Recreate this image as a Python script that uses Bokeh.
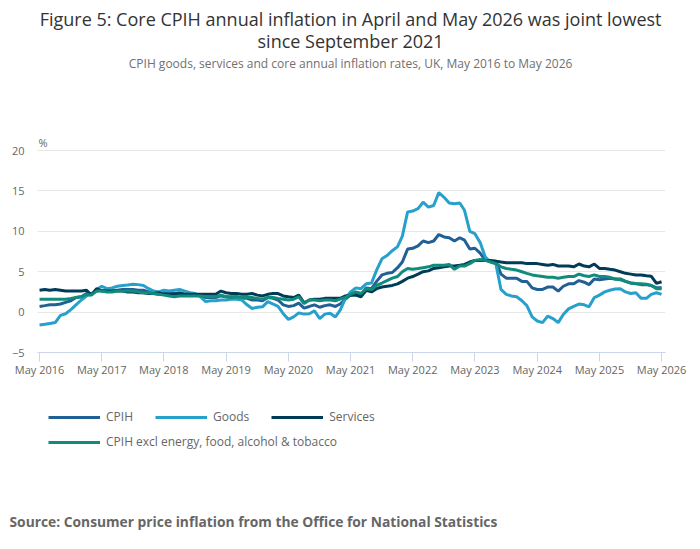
import pandas as pd
from bokeh.plotting import figure
from bokeh.layouts import column
from bokeh.models import (Range1d, FixedTicker, DatetimeTickFormatter, Legend, LegendItem,
                          Label, Title, ColumnDataSource)
from bokeh.embed import file_html
from bokeh.resources import INLINE

# ---------------- data ----------------
start_month = "2016-05-01"
end_month = "2026-05-01"
tick_years = [2016, 2017, 2018, 2019, 2020, 2021, 2022, 2023, 2024, 2025, 2026]
y_ticks = [-5, 0, 5, 10, 15, 20]

cpih = [0.7, 0.8, 0.9, 0.9, 1.0, 1.2, 1.4, 1.8,
        1.9, 2.3, 2.3, 2.6, 2.7, 2.6, 2.6, 2.7, 2.8, 2.8, 2.8, 2.7,
        2.7, 2.5, 2.3, 2.2, 2.3, 2.3, 2.3, 2.4, 2.2, 2.2, 2.2, 2.0,
        1.8, 1.8, 1.8, 2.0, 1.9, 1.9, 1.9, 1.7, 1.7, 1.5, 1.5, 1.4,
        1.8, 1.7, 1.5, 0.9, 0.7, 0.8, 1.1, 0.5, 0.7, 0.9, 0.6, 0.8,
        0.9, 0.7, 1.0, 1.6, 2.1, 2.4, 2.1, 3.0, 2.9, 3.8, 4.6, 4.8,
        4.9, 5.5, 6.2, 7.8, 7.9, 8.2, 8.8, 8.6, 8.8, 9.6, 9.3, 9.2,
        8.8, 9.2, 8.9, 7.8, 7.9, 7.3, 6.4, 6.3, 6.3, 4.7, 4.2, 4.2,
        4.2, 3.8, 3.8, 3.0, 2.8, 2.8, 3.1, 3.1, 2.6, 3.2, 3.5, 3.5,
        3.9, 3.7, 3.4, 4.1, 4.0, 4.1, 4.2, 4.1, 4.1, 3.8, 3.6, 3.5,
        3.4, 3.4, 3.3, 3.0, 3.0]

goods = [-1.6, -1.5, -1.4, -1.3, -0.4, -0.2, 0.3, 0.9,
         1.5, 2.0, 2.2, 2.8, 3.2, 2.9, 3.0, 3.2, 3.3, 3.35, 3.45, 3.4,
         3.3, 2.9, 2.6, 2.5, 2.7, 2.6, 2.7, 2.8, 2.6, 2.4, 2.3, 1.9,
         1.3, 1.4, 1.4, 1.5, 1.5, 1.6, 1.6, 1.5, 0.9, 0.45, 0.6, 0.65,
         1.3, 1.0, 0.7, -0.2, -0.9, -0.6, -0.1, -0.25, -0.2, 0.15, -0.8, -0.25,
         -0.15, -0.6, 0.25, 1.7, 2.5, 3.0, 2.9, 3.5, 3.6, 5.2, 6.6, 7.0,
         7.6, 8.1, 9.4, 12.4, 12.5, 12.8, 13.6, 13.0, 13.2, 14.8, 14.2, 13.5,
         13.4, 13.5, 12.6, 10.0, 9.7, 8.6, 6.8, 6.2, 6.0, 2.8, 2.2, 2.0,
         1.9, 1.4, 0.8, -0.6, -1.1, -1.3, -0.5, -0.8, -1.3, -0.3, 0.4, 0.7,
         1.0, 0.9, 0.65, 1.8, 2.1, 2.5, 2.7, 2.85, 2.9, 2.5, 2.3, 2.4,
         1.7, 1.7, 2.2, 2.4, 2.2]

services = [2.7, 2.8, 2.7, 2.8, 2.7, 2.6, 2.6, 2.6,
            2.6, 2.7, 2.1, 2.9, 2.6, 2.6, 2.6, 2.6, 2.6, 2.5, 2.5, 2.4,
            2.4, 2.3, 2.3, 2.4, 2.2, 2.2, 2.2, 2.3, 2.2, 2.2, 2.2, 2.2,
            2.2, 2.2, 2.2, 2.6, 2.4, 2.3, 2.3, 2.2, 2.2, 2.3, 2.1, 2.0,
            2.2, 2.3, 2.3, 2.0, 1.9, 1.8, 2.1, 1.15, 1.5, 1.6, 1.6, 1.7,
            1.7, 1.7, 1.7, 2.0, 2.1, 2.1, 1.9, 2.7, 2.5, 2.9, 3.1, 3.2,
            3.3, 3.5, 3.8, 4.2, 4.4, 4.7, 5.0, 5.1, 5.4, 5.5, 5.6, 5.7,
            5.7, 5.8, 5.9, 6.2, 6.4, 6.4, 6.4, 6.4, 6.3, 6.2, 6.1, 6.1,
            6.1, 6.1, 6.0, 6.0, 6.0, 5.9, 5.8, 5.9, 5.7, 5.7, 5.7, 5.6,
            5.95, 5.7, 5.6, 5.95, 5.4, 5.4, 5.3, 5.2, 5.0, 4.8, 4.7, 4.6,
            4.6, 4.5, 4.45, 3.55, 3.75]

core = [1.6, 1.6, 1.6, 1.6, 1.6, 1.6, 1.7, 1.8,
        1.9, 2.2, 2.1, 2.6, 2.6, 2.5, 2.5, 2.6, 2.6, 2.6, 2.6, 2.5,
        2.4, 2.4, 2.3, 2.2, 2.1, 2.0, 1.9, 2.0, 2.0, 2.0, 2.0, 2.0,
        1.9, 1.9, 1.9, 2.1, 1.9, 1.8, 1.9, 1.8, 1.8, 1.8, 1.7, 1.6,
        1.8, 1.8, 1.7, 1.6, 1.5, 1.6, 1.9, 1.05, 1.5, 1.5, 1.4, 1.5,
        1.5, 1.4, 1.6, 1.8, 2.2, 2.5, 2.3, 2.9, 2.8, 3.3, 3.6, 3.9,
        4.2, 4.4, 5.0, 5.4, 5.3, 5.4, 5.5, 5.6, 5.8, 5.8, 5.8, 5.9,
        5.3, 5.7, 5.7, 6.0, 6.4, 6.5, 6.4, 6.2, 6.0, 5.6, 5.4, 5.3,
        5.2, 5.0, 4.8, 4.6, 4.5, 4.4, 4.3, 4.3, 4.2, 4.3, 4.4, 4.4,
        4.7, 4.5, 4.4, 4.6, 4.4, 4.4, 4.3, 4.1, 4.0, 3.8, 3.6, 3.55,
        3.5, 3.45, 3.3, 2.9, 2.9]

series_names = ["CPIH", "Goods", "Services", "CPIH excl energy, food, alcohol & tobacco"]
series_colors = ["#206095", "#27a0cc", "#003c57", "#118c7b"]

title_line1 = "Figure 5: Core CPIH annual inflation in April and May 2026 was joint lowest"
title_line2 = "since September 2021"
subtitle = "CPIH goods, services and core annual inflation rates, UK, May 2016 to May 2026"
source_text = "Source: Consumer price inflation from the Office for National Statistics"
unit_text = "%"

# ---------------- layout constants ----------------
W = 692
H_TOP = 382                                   # chart part (titles + plot + x axis)
H_BOT = 159                                   # legend + source part
FRAME_L, FRAME_R, FRAME_B = 37, 665, 352      # frame top is the canvas top
PX_PER_UNIT = (352 - 150) / 25.0              # 20 drawn at y=150, -5 at y=352
Y_TOP = 20 + 150 / PX_PER_UNIT


def yval(py):
    """vertical page position -> value on the y scale (frame starts at page top)"""
    return 20 + (150 - py) / PX_PER_UNIT


FONT = "Open Sans"
months = pd.date_range(start_month, end_month, freq="MS")
src = ColumnDataSource(dict(date=months, cpih=cpih, goods=goods, services=services, core=core))
cols = ["cpih", "goods", "services", "core"]

x_start = pd.Timestamp(start_month) - pd.Timedelta(days=12)
x_end = pd.Timestamp(end_month) + pd.Timedelta(days=23)

# ================= main chart =================
p = figure(width=W, height=H_TOP, output_backend="svg", toolbar_location=None,
           x_axis_type="datetime", title=None,
           x_range=Range1d(x_start, x_end), y_range=Range1d(-5, Y_TOP),
           min_border_left=FRAME_L, min_border_right=W - FRAME_R, min_border_top=0,
           min_border_bottom=H_TOP - FRAME_B)
p.outline_line_color = None
p.background_fill_color = "white"
p.border_fill_color = "white"

tick_ms = [pd.Timestamp(f"{y}-05-01").value // 10**6 for y in tick_years]
p.xaxis.ticker = FixedTicker(ticks=tick_ms)
fmt = "%b %Y"
p.xaxis.formatter = DatetimeTickFormatter(years=fmt, months=fmt, days=fmt, hours=fmt,
                                          minutes=fmt, seconds=fmt, milliseconds=fmt,
                                          microseconds=fmt, minsec=fmt, hourmin=fmt)
p.xaxis.axis_line_color = "#ccd6eb"
p.xaxis.major_tick_line_color = "#ccd6eb"
p.xaxis.major_tick_out = 9
p.xaxis.major_tick_in = 0
p.xaxis.minor_tick_line_color = None
p.xaxis.major_label_standoff = 0
p.xaxis.major_label_text_font = FONT
p.xaxis.major_label_text_font_size = "11px"
p.xaxis.major_label_text_color = "#666666"

p.yaxis.ticker = FixedTicker(ticks=y_ticks)
p.yaxis.axis_line_color = None
p.yaxis.major_tick_line_color = None
p.yaxis.minor_tick_line_color = None
p.yaxis.major_tick_out = 0
p.yaxis.major_tick_in = 0
p.yaxis.major_label_standoff = 13
p.yaxis.major_label_text_font = FONT
p.yaxis.major_label_text_font_size = "11px"
p.yaxis.major_label_text_color = "#666666"

p.xgrid.grid_line_color = None
p.ygrid.grid_line_color = "#e6e6e6"
p.ygrid.grid_line_width = 1

for c, col in zip(cols, series_colors):
    p.line("date", c, source=src, line_color=col, line_width=3)

mid_x = pd.Timestamp("2021-05-01")
for txt, py, size, color in [(title_line1, 18, "18px", "#333333"),
                             (title_line2, 40, "18px", "#333333"),
                             (subtitle, 63, "12px", "#707070")]:
    p.add_layout(Label(x=mid_x, y=yval(py), text=txt, text_font=FONT, text_font_size=size,
                       text_color=color, text_align="center", text_baseline="middle"))
p.add_layout(Label(x=pd.Timestamp(start_month), y=yval(142), text=unit_text, text_font=FONT,
                   text_font_size="11px", text_color="#666666", text_align="left",
                   text_baseline="middle", x_offset=-1))

# ================= legend + source strip =================
SRC_PANEL = 43                                  # height of the source-title panel
FRAME_Q = H_BOT - SRC_PANEL                     # legend frame height
q = figure(width=W, height=H_BOT, output_backend="svg", toolbar_location=None,
           x_axis_location=None, y_axis_location=None, title=None,
           x_range=Range1d(FRAME_L, FRAME_R), y_range=Range1d(FRAME_Q, 0),
           min_border_left=FRAME_L, min_border_right=W - FRAME_R, min_border_top=0,
           min_border_bottom=0)
q.outline_line_color = None
q.grid.visible = False
q.background_fill_color = "white"
q.border_fill_color = "white"

# legend swatches come from the same series (their data lie outside this strip's view)
leg_renderers = [q.line("date", c, source=src, line_color=col, line_width=3)
                 for c, col in zip(cols, series_colors)]


def make_legend(items, loc):
    return Legend(items=items, orientation="horizontal", location=loc,
                  glyph_width=52, glyph_height=16, label_height=16, label_standoff=6,
                  spacing=22, padding=0, margin=0, border_line_color=None,
                  background_fill_alpha=0, inactive_fill_alpha=0,
                  label_text_font=FONT, label_text_font_size="12px",
                  label_text_color="#666666")


row1_c, row2_c = 416 - H_TOP, 441 - H_TOP
leg1 = make_legend([LegendItem(label=series_names[i], renderers=[leg_renderers[i]]) for i in range(3)],
                   (48 - FRAME_L, FRAME_Q - row1_c - 9))
leg2 = make_legend([LegendItem(label=series_names[3], renderers=[leg_renderers[3]])],
                   (48 - FRAME_L, FRAME_Q - row2_c - 9))
q.add_layout(leg1, "center")
q.add_layout(leg2, "center")

q.add_layout(Title(text=source_text, align="left", text_font=FONT, text_font_size="13.8px",
                   text_font_style="bold", text_color="#666666", offset=10 - FRAME_L - 1,
                   standoff=22), "below")

open("out.html", "w").write(file_html(column(p, q, spacing=0), INLINE))
